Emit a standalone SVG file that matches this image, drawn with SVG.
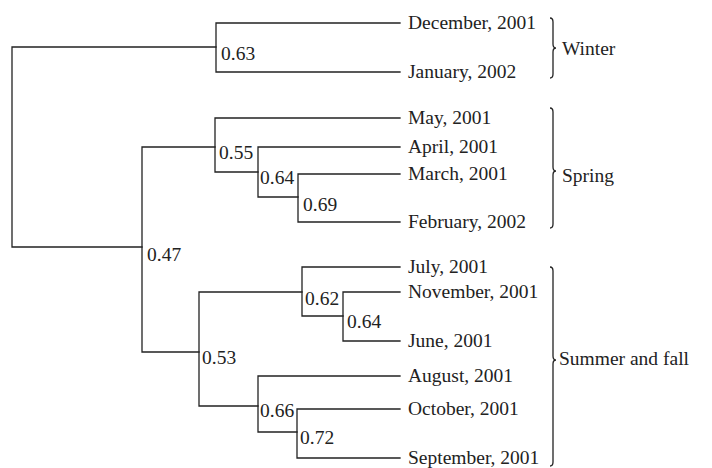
<svg xmlns="http://www.w3.org/2000/svg" width="712" height="468" viewBox="0 0 712 468">
<style>
.ln{fill:none;stroke:#222;stroke-width:1.3;stroke-linecap:square}
.br{fill:none;stroke:#222;stroke-width:1.3}
text{font-family:"Liberation Serif","Times New Roman",serif;font-size:19.5px;fill:#222}
</style>
<rect width="712" height="468" fill="#fff"/>
<g id="connectors">
<path class="ln" d="M216,47 H12 V247 H142"/>
<path class="ln" d="M400,23 H216 V72 H400"/>
<path class="ln" d="M215,147 H142 V352 H199"/>
<path class="ln" d="M400,118 H215 V172 H258"/>
<path class="ln" d="M400,147 H258 V197 H298"/>
<path class="ln" d="M400,174 H298 V222 H400"/>
<path class="ln" d="M302,292 H199 V406 H258"/>
<path class="ln" d="M400,267 H302 V316 H343"/>
<path class="ln" d="M400,292 H343 V341 H400"/>
<path class="ln" d="M400,376 H258 V432 H297"/>
<path class="ln" d="M400,409 H297 V458 H400"/>
</g>
<g id="node-labels">
<text x="221" y="60">0.63</text>
<text x="147" y="261">0.47</text>
<text x="219" y="159">0.55</text>
<text x="260" y="184">0.64</text>
<text x="303" y="211">0.69</text>
<text x="202" y="364">0.53</text>
<text x="305" y="305">0.62</text>
<text x="347" y="328">0.64</text>
<text x="260" y="417">0.66</text>
<text x="300" y="444">0.72</text>
</g>
<g id="leaves">
<text id="dec2001" x="408" y="28.5">December, 2001</text>
<text id="jan2002" x="408" y="77.5">January, 2002</text>
<text id="may2001" x="408" y="123.5">May, 2001</text>
<text id="apr2001" x="408" y="152.5">April, 2001</text>
<text id="mar2001" x="408" y="179.5">March, 2001</text>
<text id="feb2002" x="408" y="227.5">February, 2002</text>
<text id="jul2001" x="408" y="272.5">July, 2001</text>
<text id="nov2001" x="408" y="297.5">November, 2001</text>
<text id="jun2001" x="408" y="346.5">June, 2001</text>
<text id="aug2001" x="408" y="381.5">August, 2001</text>
<text id="oct2001" x="408" y="414.5">October, 2001</text>
<text id="sep2001" x="408" y="463.5">September, 2001</text>
</g>
<g id="winter">
<path class="br" d="M550,18 Q553,18 553,22 V44 Q553,48 556,48 Q553,48 553,52 V74 Q553,78 550,78"/>
<text x="562" y="55">Winter</text>
</g>
<g id="spring">
<path class="br" d="M550,108 Q553,108 553,112 V167 Q553,171 556,171 Q553,171 553,175 V224 Q553,228 550,228"/>
<text x="562" y="182">Spring</text>
</g>
<g id="summer-fall">
<path class="br" d="M550,267 Q553,267 553,271 V356 Q553,360 556,360 Q553,360 553,364 V462 Q553,466 550,466"/>
<text x="559" y="365">Summer and fall</text>
</g>
</svg>
